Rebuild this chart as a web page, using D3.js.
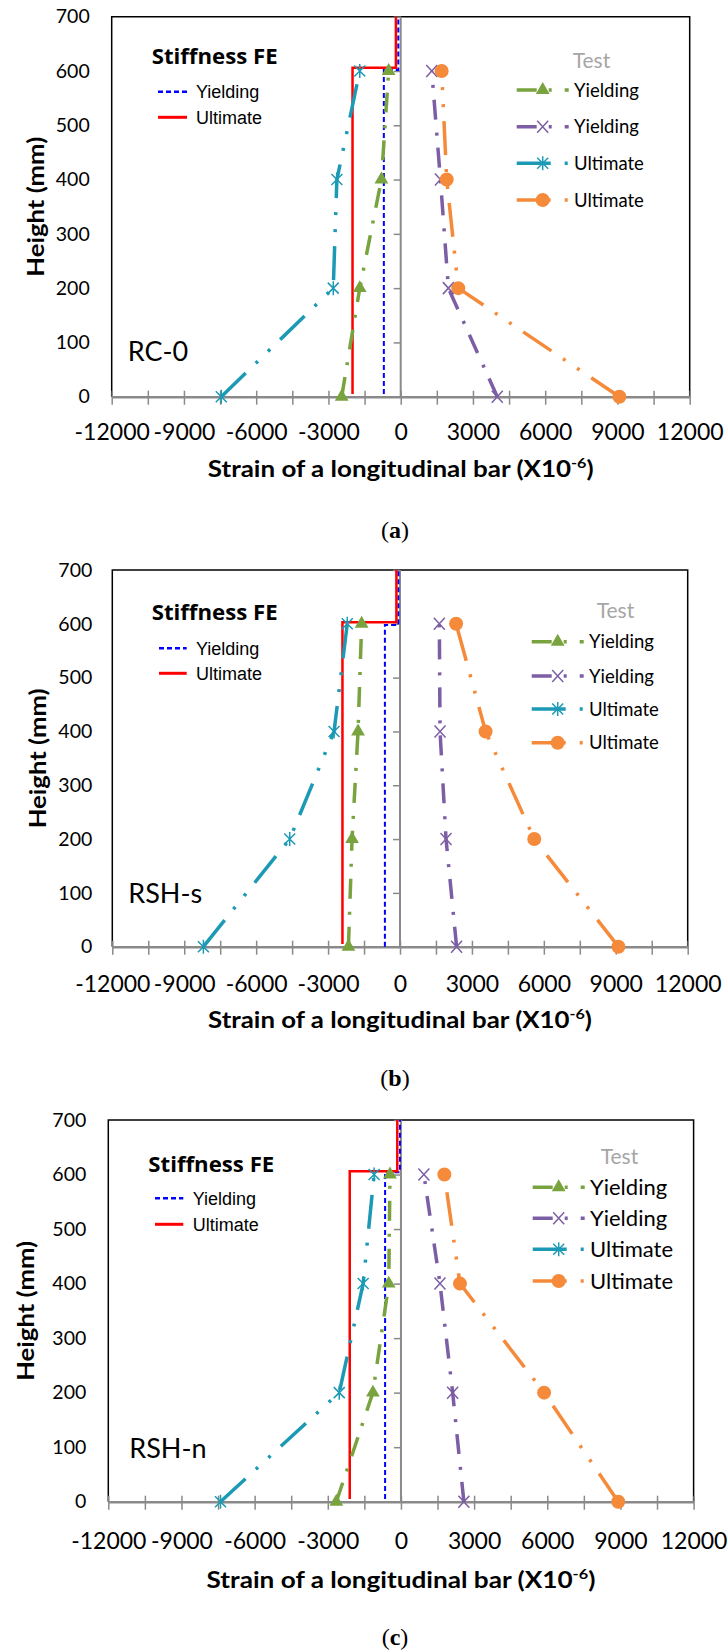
<!DOCTYPE html>
<html>
<head>
<meta charset="utf-8">
<script src="https://cdn.jsdelivr.net/npm/d3@7"></script>
<style>
  html, body { margin: 0; padding: 0; background: #fff; }
  svg { display: block; }
</style>
</head>
<body>
<svg id="fig" width="728" height="1652"></svg>
<script>
// ---------- data ----------
const specimenNames = ["RC-0", "RSH-s", "RSH-n"];
const captionLetters = ["a", "b", "c"];

// measurement heights of the strain gauges (mm)
const testHeights = [0, 200, 400, 600];

// test strains (x10^-6) at testHeights, per specimen
const rc0YieldComp  = [-2450, -1700, -800, -500];
const rc0YieldTens  = [4010, 1980, 1650, 1290];
const rc0UltComp    = [-7450, -2800, -2650, -1700];
const rc0UltTens    = [9080, 2390, 1910, 1700];

const rshsYieldComp = [-2150, -2000, -1750, -1600];
const rshsYieldTens = [2360, 1920, 1670, 1640];
const rshsUltComp   = [-8200, -4600, -2750, -2200];
const rshsUltTens   = [9110, 5600, 3570, 2340];

const rshnYieldComp = [-2650, -1150, -500, -450];
const rshnYieldTens = [2580, 2120, 1600, 940];
const rshnUltComp   = [-7400, -2530, -1550, -1100];
const rshnUltTens   = [8910, 5870, 2420, 1780];

// stiffness FE step profiles: strain and height of each vertex
const rc0FeYieldStrain  = [-700, -700, -100, -100];
const rc0FeYieldHeight  = [5, 602, 602, 700];
const rc0FeUltStrain    = [-2000, -2000, -200, -200];
const rc0FeUltHeight    = [5, 606, 606, 700];

const rshsFeYieldStrain = [-630, -630, -70, -70];
const rshsFeYieldHeight = [0, 598, 598, 700];
const rshsFeUltStrain   = [-2400, -2400, -150, -150];
const rshsFeUltHeight   = [5, 603, 603, 700];

const rshnFeYieldStrain = [-650, -650, -40, -40];
const rshnFeYieldHeight = [5, 604, 604, 700];
const rshnFeUltStrain   = [-2100, -2100, -150, -150];
const rshnFeUltHeight   = [5, 606, 606, 700];

// axis ticks
const xTickLabels = [-12000, -9000, -6000, -3000, 0, 3000, 6000, 9000, 12000];
const xMinorTicks = [-10500, -7500, -4500, -1500, 1500, 4500, 7500, 10500];
const yTickLabels = [0, 100, 200, 300, 400, 500, 600, 700];

// legend texts
const feLegendTitle = "Stiffness FE";
const feLegendLabels = ["Yielding", "Ultimate"];
const testLegendTitle = "Test";
const testLegendLabels = ["Yielding", "Yielding", "Ultimate", "Ultimate"];
const xAxisTitle = "Strain of a longitudinal bar (X10";
const xAxisTitleSup = "-6";
const yAxisTitle = "Height (mm)";

// ---------- styles ----------
const AXIS_GREY = "#8a8a8a";
const YIELD_DASH = "20 12 3 13";
const ULT_DASH = "34 14 3 14 3 14";
const testStyles = [
  { color: "#78a33e", dash: YIELD_DASH, marker: "tri" },
  { color: "#7c5ea5", dash: YIELD_DASH, marker: "cross" },
  { color: "#1c9ab5", dash: ULT_DASH,   marker: "star" },
  { color: "#f48a3a", dash: ULT_DASH,   marker: "circle" }
];
const feStyles = [
  { color: "#0000ff", dash: "5 3", width: 2 },
  { color: "#ff0000", dash: null,  width: 2.5 }
];

const MARKERS = {
  tri: d3.symbol(d3.symbolTriangle, 82)(),
  cross: "M-5.5,-6L5.5,6M-5.5,6L5.5,-6",
  star: "M-5.5,-5.5L5.5,5.5M-5.5,5.5L5.5,-5.5M0,-7V7",
  circle: d3.symbol(d3.symbolCircle, 154)()
};
function styleMarker(sel, st) {
  if (st.marker === "tri" || st.marker === "circle") {
    sel.attr("fill", st.color).attr("stroke", "none");
  } else {
    sel.attr("fill", "none").attr("stroke", st.color).attr("stroke-width", 1.5);
  }
}

// ---------- panel layout ----------
const frames = [
  { left: 111.7, right: 689.7, top: 16.7, bottom: 396.7, yGap: 22, xLabDy: 43, xTitleDy: 80, xTitleW: 386,
    yTitleX: 44, captionY: 538, nameX: 127.7, nameY: 361,
    fe: { tx: 151.7, ty: 64, x1: 158, x2: 187, rows: [91.7, 117.3], txt: 196 },
    test: { tx: 572.7, ty: 68.3, x0: 516.7, rows: [90, 126.7, 163.3, 200], fs: 18.5 } },
  { left: 112.3, right: 687.7, top: 570, bottom: 946.7, yGap: 20, xLabDy: 45, xTitleDy: 81, xTitleW: 384,
    yTitleX: 46, captionY: 1086, nameX: 128.3, nameY: 903.3,
    fe: { tx: 151.7, ty: 620, x1: 159, x2: 186.7, rows: [648.3, 673.3], txt: 196 },
    test: { tx: 596.7, ty: 618.3, x0: 531.7, rows: [641.7, 676, 709, 742.7], fs: 18.5 } },
  { left: 108.3, right: 693.6, top: 1120, bottom: 1501.7, yGap: 22, xLabDy: 47, xTitleDy: 86, xTitleW: 389,
    yTitleX: 34, captionY: 1645, nameX: 129.3, nameY: 1458.3,
    fe: { tx: 148.3, ty: 1171.7, x1: 155, x2: 183.3, rows: [1198.3, 1224.3], txt: 192.7 },
    test: { tx: 600.7, ty: 1164, x0: 532.7, rows: [1187.3, 1218.3, 1249.3, 1281], fs: 22 } }
];

const panelTests = [
  [rc0YieldComp, rc0YieldTens, rc0UltComp, rc0UltTens],
  [rshsYieldComp, rshsYieldTens, rshsUltComp, rshsUltTens],
  [rshnYieldComp, rshnYieldTens, rshnUltComp, rshnUltTens]
];
const panelFe = [
  [[rc0FeYieldStrain, rc0FeYieldHeight], [rc0FeUltStrain, rc0FeUltHeight]],
  [[rshsFeYieldStrain, rshsFeYieldHeight], [rshsFeUltStrain, rshsFeUltHeight]],
  [[rshnFeYieldStrain, rshnFeYieldHeight], [rshnFeUltStrain, rshnFeUltHeight]]
];

const svg = d3.select("#fig");

// squeeze a text horizontally so that it spans the given width
function fitWidth(textSel, target) {
  const w = textSel.node().getComputedTextLength();
  if (w > 0) textSel.attr("transform", `scale(${target / w},1)`);
}

function drawPanel(i) {
  const f = frames[i];
  const x = d3.scaleLinear().domain([-12000, 12000]).range([f.left, f.right]);
  const y = d3.scaleLinear().domain([0, 700]).range([f.bottom, f.top]);
  const g = svg.append("g");

  // plot border
  g.append("path")
    .attr("d", `M${f.left},${f.bottom}V${f.top}H${f.right}V${f.bottom}`)
    .attr("fill", "none").attr("stroke", "#000").attr("stroke-width", 1.5);

  // vertical axis through zero strain
  const yAx = g.append("g").attr("transform", `translate(${x(0)},0)`)
    .call(d3.axisLeft(y).tickValues(yTickLabels).tickSize(7).tickSizeOuter(0).tickFormat(""));
  yAx.select(".domain").remove();
  yAx.selectAll(".tick line").attr("stroke", AXIS_GREY).attr("stroke-width", 1.5);
  g.append("line").attr("x1", x(0)).attr("x2", x(0)).attr("y1", f.top).attr("y2", f.bottom)
    .attr("stroke", AXIS_GREY).attr("stroke-width", 2);

  // height labels on the left
  const yLab = g.append("g").attr("transform", `translate(${f.left},0)`)
    .call(d3.axisLeft(y).tickValues(yTickLabels).tickSize(0).tickPadding(f.yGap).tickFormat(d => String(d)));
  yLab.select(".domain").remove();
  yLab.selectAll("text").attr("font-family", "Lato").attr("font-size", 19.5).attr("fill", "#000");

  // horizontal axis at zero height
  const xAx = g.append("g").attr("transform", `translate(0,${f.bottom})`)
    .call(d3.axisBottom(x).tickValues(xTickLabels.concat(xMinorTicks)).tickSize(8).tickSizeOuter(0)
      .tickFormat(d => xTickLabels.includes(d) ? String(d) : ""));
  xAx.select(".domain").attr("stroke", AXIS_GREY).attr("stroke-width", 2.5);
  xAx.selectAll(".tick line").attr("y1", -6).attr("stroke", AXIS_GREY).attr("stroke-width", 1.5);
  xAx.selectAll(".tick text").attr("y", f.xLabDy).attr("dy", 0)
    .attr("font-family", "Lato").attr("font-size", 23).attr("fill", "#000");

  // FE step profiles
  const feLine = d3.line().x(d => x(d.s)).y(d => y(d.h));
  panelFe[i].forEach((pair, k) => {
    const pts = pair[0].map((s, j) => ({ s, h: pair[1][j] }));
    const p = g.append("path").datum(pts).attr("d", feLine)
      .attr("fill", "none").attr("stroke", feStyles[k].color).attr("stroke-width", feStyles[k].width);
    if (feStyles[k].dash) p.attr("stroke-dasharray", feStyles[k].dash);
  });

  // test series
  const tLine = d3.line().x(d => x(d.s)).y(d => y(d.h));
  panelTests[i].forEach((strains, k) => {
    const st = testStyles[k];
    const pts = testHeights.map((h, j) => ({ h, s: strains[j] }));
    g.append("path").datum(pts).attr("d", tLine)
      .attr("fill", "none").attr("stroke", st.color).attr("stroke-width", 3.5)
      .attr("stroke-dasharray", st.dash);
    g.append("g").selectAll("path").data(pts).join("path")
      .attr("transform", d => `translate(${x(d.s)},${y(d.h)})`)
      .attr("d", MARKERS[st.marker])
      .call(styleMarker, st);
  });

  // specimen name
  g.append("text").attr("x", f.nameX).attr("y", f.nameY)
    .attr("font-family", "Lato").attr("font-size", 27).attr("fill", "#000")
    .text(specimenNames[i]);

  // FE legend
  const fe = f.fe;
  const feT = g.append("g").attr("transform", `translate(${fe.tx},${fe.ty})`)
    .append("text").attr("font-family", "Open Sans").attr("font-weight", 700)
    .attr("font-size", 22).attr("fill", "#000").text(feLegendTitle);
  fitWidth(feT, 126);
  feLegendLabels.forEach((lab, k) => {
    const ly = fe.rows[k];
    const l = g.append("line").attr("x1", fe.x1).attr("x2", fe.x2).attr("y1", ly).attr("y2", ly)
      .attr("stroke", feStyles[k].color).attr("stroke-width", feStyles[k].width + 0.5);
    if (feStyles[k].dash) l.attr("stroke-dasharray", feStyles[k].dash);
    g.append("text").attr("x", fe.txt).attr("y", ly + 6.5)
      .attr("font-family", "Liberation Sans").attr("font-size", 18).attr("fill", "#000").text(lab);
  });

  // Test legend
  const tl = f.test;
  g.append("text").attr("x", tl.tx).attr("y", tl.ty)
    .attr("font-family", "Lato").attr("font-size", 21).attr("fill", "#a6a6a6").text(testLegendTitle);
  testLegendLabels.forEach((lab, k) => {
    const st = testStyles[k];
    const ly = tl.rows[k];
    g.append("line").attr("x1", tl.x0).attr("x2", tl.x0 + 52).attr("y1", ly).attr("y2", ly)
      .attr("stroke", st.color).attr("stroke-width", 3.5).attr("stroke-dasharray", st.dash);
    g.append("path").attr("transform", `translate(${tl.x0 + 26},${ly})`)
      .attr("d", MARKERS[st.marker]).call(styleMarker, st);
    g.append("text").attr("x", tl.x0 + 57.3).attr("y", ly + tl.fs * 0.36)
      .attr("font-family", "Lato").attr("font-size", tl.fs).attr("fill", "#000").text(lab);
  });

  // axis titles
  const cx = (f.left + f.right) / 2;
  const xt = g.append("g").attr("transform", `translate(${cx},${f.bottom + f.xTitleDy})`)
    .append("text").attr("text-anchor", "middle")
    .attr("font-family", "Lato").attr("font-weight", 700).attr("font-size", 22.5).attr("fill", "#000");
  xt.append("tspan").text(xAxisTitle);
  xt.append("tspan").attr("font-size", 14).attr("dy", -9).text(xAxisTitleSup);
  xt.append("tspan").attr("dy", 9).text(")");
  fitWidth(xt, f.xTitleW);

  const cy = (f.top + f.bottom) / 2;
  const yt = g.append("g").attr("transform", `translate(${f.yTitleX},${cy}) rotate(-90)`)
    .append("text").attr("text-anchor", "middle")
    .attr("font-family", "Lato").attr("font-weight", 700).attr("font-size", 23).attr("fill", "#000")
    .text(yAxisTitle);
  fitWidth(yt, 140);

  // panel caption
  const cap = svg.append("text").attr("x", 395).attr("y", f.captionY).attr("text-anchor", "middle")
    .attr("font-family", "Liberation Serif").attr("font-size", 24).attr("fill", "#000");
  cap.append("tspan").text("(");
  cap.append("tspan").attr("font-weight", 700).text(captionLetters[i]);
  cap.append("tspan").text(")");
}

frames.forEach((f, i) => drawPanel(i));
</script>
</body>
</html>
